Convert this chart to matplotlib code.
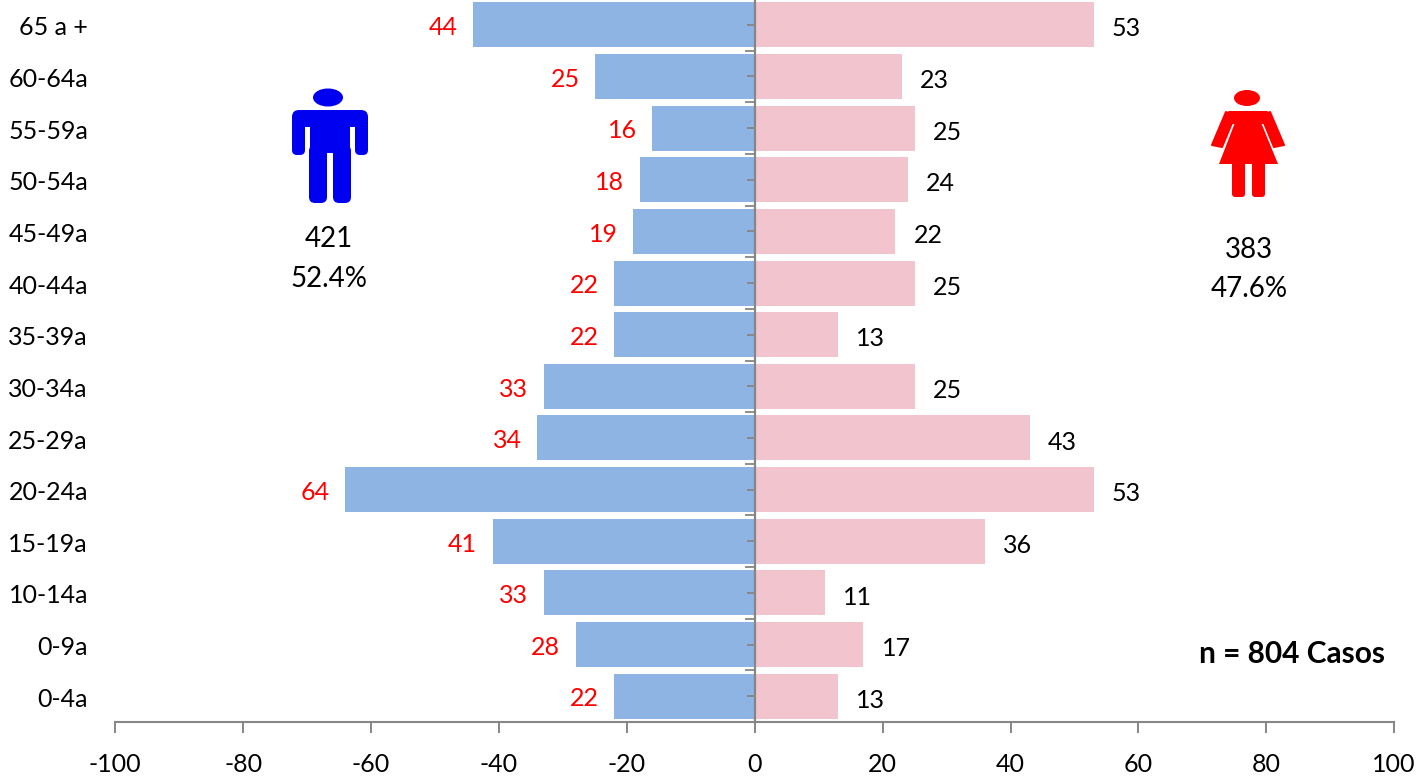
import matplotlib
matplotlib.use('Agg')
import matplotlib.pyplot as plt
from matplotlib.patches import Ellipse, FancyBboxPatch, Polygon

plt.rcParams['font.family'] = ['Lato', 'DejaVu Sans']
plt.rcParams['axes.unicode_minus'] = False

W, H = 1422, 776
GREY = '#868686'

age_groups = ['0-4a', '0-9a', '10-14a', '15-19a', '20-24a', '25-29a', '30-34a',
              '35-39a', '40-44a', '45-49a', '50-54a', '55-59a', '60-64a', '65 a +']
men = [22, 28, 33, 41, 64, 34, 33, 22, 22, 19, 18, 16, 25, 44]
women = [13, 17, 11, 36, 53, 43, 25, 13, 25, 22, 24, 25, 23, 53]
x_ticks = [-100, -80, -60, -40, -20, 0, 20, 40, 60, 80, 100]

fig = plt.figure(figsize=(W / 100, H / 100), dpi=100)
# ejes colocados en pixeles de la imagen
ax = fig.add_axes([115.2 / W, 1 - 722 / H, (1394 - 115) / W, 723 / H])
pos = range(len(age_groups))

ax.barh(pos, [-v for v in men], height=0.87, color='#8EB4E3')
ax.barh(pos, women, height=0.87, color='#F2C4CE')
ax.set_xlim(-100, 100)
ax.set_ylim(-0.5, 13.5)

# etiquetas de valores
for i, v in enumerate(men):
    ax.annotate(str(v), (-v, i), xytext=(-11, -2), textcoords='offset points',
                ha='right', va='center', color='#FF0000', fontsize=18)
for i, v in enumerate(women):
    ax.annotate(str(v), (v, i), xytext=(13, -3), textcoords='offset points',
                ha='left', va='center', color='black', fontsize=18)

# eje de categorias sobre x=0, etiquetas a la izquierda
for s in ['top', 'right']:
    ax.spines[s].set_visible(False)
ax.spines['left'].set_position(('data', 0))
ax.spines['left'].set_color(GREY)
ax.spines['left'].set_linewidth(1.6)
ax.spines['bottom'].set_color(GREY)
ax.spines['bottom'].set_linewidth(1.5)
ax.set_axisbelow(False)

ax.set_yticks(list(pos))
ax.set_yticklabels([])
for i, name in enumerate(age_groups):
    ax.annotate(name, (-0.0213, i), xycoords=('axes fraction', 'data'),
                xytext=(0, -2.2), textcoords='offset points',
                ha='right', va='center', fontsize=18)
ax.set_yticks([p + 0.5 for p in pos][:-1], minor=True)
ax.tick_params(axis='y', which='major', length=5.5, width=1.3, color=GREY)
ax.tick_params(axis='y', which='minor', length=7, width=1.3, color=GREY)
ax.set_xticks(x_ticks)
ax.tick_params(axis='x', length=8, width=1.4, color=GREY, labelsize=18, pad=14.5)

# capa en pixeles para iconos y textos sueltos
ov = fig.add_axes([0, 0, 1, 1], facecolor='none')
ov.set_xlim(0, W)
ov.set_ylim(H, 0)
ov.axis('off')


def rrect(x0, y0, x1, y1, color, r=5):
    ov.add_patch(FancyBboxPatch((x0 + r, y0 + r), x1 - x0 - 2 * r, y1 - y0 - 2 * r,
                                boxstyle=f'round,pad={r}', fc=color, ec='none'))


# hombre
BLUE = '#0000F0'
ov.add_patch(Ellipse((328, 97.5), 30, 18, fc=BLUE, ec='none'))
rrect(292, 110, 368, 127, BLUE, r=7)
rrect(292, 115, 305, 155, BLUE)
rrect(355, 115, 368, 155, BLUE)
ov.add_patch(plt.Rectangle((310, 115), 40, 38, fc=BLUE, ec='none'))
rrect(309, 145, 327, 203, BLUE, r=6)
rrect(333, 145, 351, 203, BLUE, r=6)

# mujer
RED = '#FF0000'
ov.add_patch(Ellipse((1247, 98), 26, 16, fc=RED, ec='none'))
rrect(1226, 111, 1270, 124, RED, r=4)
ov.add_patch(Polygon([(1236, 120), (1260, 120), (1278, 164), (1219, 164)], fc=RED, ec='none'))
for pts in ([(1226, 112), (1234, 118), (1222, 147), (1212, 145)],
            [(1270, 112), (1262, 118), (1274, 147), (1284, 145)]):
    ov.add_patch(Polygon(pts, closed=True, fc=RED, ec=RED, lw=1.5, joinstyle='round'))
rrect(1232, 160, 1245, 197, RED, r=3)
rrect(1252, 160, 1265, 197, RED, r=3)

ov.text(329, 239, '421', ha='center', va='center', fontsize=20)
ov.text(329, 279, '52.4%', ha='center', va='center', fontsize=20)
ov.text(1249, 250, '383', ha='center', va='center', fontsize=20)
ov.text(1249, 289, '47.6%', ha='center', va='center', fontsize=20)
ov.text(1292, 654, 'n = 804 Casos', ha='center', va='center', fontsize=21.5, fontweight='bold')

fig.savefig('out.png', dpi=100)
